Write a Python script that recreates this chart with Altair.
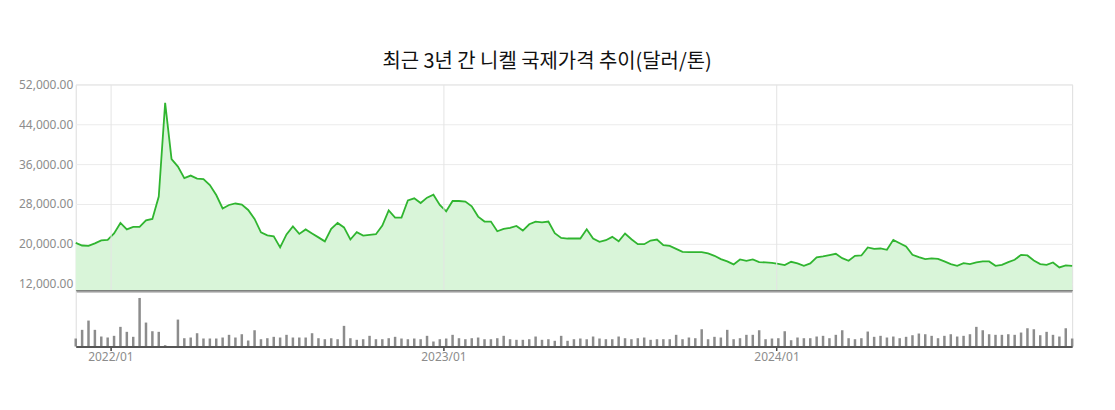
import altair as alt
import pandas as pd

TITLE = "최근 3년 간 니켈 국제가격 추이(달러/톤)"
START_DATE = "2021-11-24"   # weekly series

price = [
    20200, 19670, 19600, 20100, 20700, 20800, 22100, 24200, 22900, 23400,
    23400, 24700, 25000, 29500, 48300, 37000, 35500, 33200, 33700, 33100,
    33000, 31800, 29800, 27100, 27800, 28100, 27900, 26800, 25000, 22300,
    21700, 21500, 19300, 21900, 23500, 22000, 22900, 22100, 21300, 20500,
    23000, 24200, 23300, 20870, 22330, 21670, 21800, 21930, 23670, 26730,
    25270, 25270, 28730, 29130, 28200, 29270, 29870, 27800, 26530, 28600,
    28600, 28470, 27530, 25470, 24470, 24470, 22530, 23000, 23200, 23600,
    22670, 23930, 24470, 24330, 24470, 22130, 21200, 21070, 21070, 21070,
    22930, 21070, 20400, 20730, 21400, 20530, 22070, 20930, 19930, 19930,
    20670, 20870, 19730, 19600, 19000, 18400, 18330, 18330, 18330, 18070,
    17600, 16930, 16470, 15870, 16870, 16600, 16870, 16330, 16270, 16200,
    16000, 15730, 16400, 16070, 15600, 16070, 17270, 17470,
    17730, 18000, 17130, 16600, 17600, 17670, 19270, 19000, 19070, 18800,
    20800, 20130, 19470, 17800, 17330, 16930, 17070, 17000, 16470, 15930,
    15600, 16130, 15930, 16270, 16470, 16470, 15600, 15800, 16330, 16800,
    17800, 17670, 16670, 15930, 15800, 16270, 15270, 15670, 15600,
]

volume = [
    8, 16.7, 26, 16.7, 10, 9, 10.7, 19.7, 14.7, 9.7,
    48.7, 24, 15.3, 14.7, 1.3, 0, 27, 8.3, 9, 13.3,
    8, 8, 8, 9, 11.7, 9, 12.3, 6, 16.3, 7.3,
    8.3, 9.7, 9, 11.7, 9, 9, 9, 13.3, 8.3, 7.3,
    8.3, 7.3, 20.7, 8.3, 6.7, 7.3, 10.7, 7.3, 7.3, 8.3,
    9.7, 8, 7.3, 8, 7.3, 10.7, 5, 7.3, 8, 11.7,
    8.3, 7.3, 8.3, 9, 7.3, 7.3, 8.3, 10.7, 7.3, 6.7,
    6.7, 7.3, 10, 6.7, 7.3, 5.7, 10.7, 5.7, 7.3, 8,
    7.3, 10, 8, 7.3, 7.3, 10, 8.3, 7.3, 8.3, 9,
    6.7, 7.3, 7.3, 7.3, 11.7, 7.3, 9, 8.3, 17.3, 7.3,
    9.7, 9, 16.7, 7.3, 8.3, 11.7, 11.7, 16.3, 7.3, 8,
    8.3, 15.3, 6.3, 9, 8.3, 8.3, 10, 10.7, 8.3, 11.7,
    16.3, 8.3, 7.3, 8.3, 15, 9.7, 10.7, 9, 10, 8.3,
    9.7, 11.3, 13, 12.3, 10.7, 8.3, 10.7, 12.3, 10, 10.7,
    12.3, 19.7, 16.3, 12.3, 11.7, 11.7, 12.3, 11.7, 14, 18.3,
    17.3, 11.3, 14.7, 11.7, 10, 18.3, 8,
]

y_ticks = [12000, 20000, 28000, 36000, 44000, 52000]
y_min, y_max = 10600, 52000
x_tick_years = [2022, 2023, 2024]

dates = pd.date_range(START_DATE, periods=len(price), freq="7D")
df = pd.DataFrame({"date": dates, "price": price, "volume": volume})

tick_values = [alt.DateTime(year=y, month=1, date=1) for y in x_tick_years]
x_scale = alt.Scale(nice=False, padding=0)

top_x_axis = alt.Axis(
    title=None, values=tick_values, labels=False, ticks=False,
    domain=True, domainColor="#222222", domainWidth=2,
    grid=True, gridColor="#e4e4e4", gridWidth=1, zindex=1,
)
top_y_axis = alt.Axis(
    title=None, values=y_ticks, format=",.2f",
    labelColor="#8c8c8c", labelFontSize=12, labelFont="Noto Sans",
    labelPadding=3, domain=False, ticks=False,
    grid=True, gridColor="#ebebeb", gridWidth=1,
)

base = alt.Chart(df)
area = base.mark_area(color="#d9f5d9", opacity=1).encode(
    x=alt.X("date:T", scale=x_scale, axis=top_x_axis),
    y=alt.Y("price:Q", scale=alt.Scale(domain=[y_min, y_max], nice=False, zero=False),
            axis=top_y_axis),
    y2=alt.datum(y_min),
)
line = base.mark_line(color="#30b530", strokeWidth=1.8).encode(
    x=alt.X("date:T", scale=x_scale),
    y=alt.Y("price:Q"),
)
top = alt.layer(area, line).properties(width=1000, height=207)

bars = base.mark_bar(color="#8c8c8c", size=2.5).encode(
    x=alt.X("date:T", scale=x_scale, axis=alt.Axis(
        title=None, values=tick_values, format="%Y/%m",
        labelColor="#8c8c8c", labelFontSize=12, labelFont="Noto Sans",
        labelPadding=1, tickColor="#444444", tickSize=4, tickWidth=1.5,
        domainColor="#555555", domainWidth=2, grid=False, zindex=1,
    )),
    y=alt.Y("volume:Q", scale=alt.Scale(domain=[0, 56], nice=False), axis=None),
).properties(width=1000, height=56)

chart = alt.vconcat(top, bars, spacing=0, bounds="flush").properties(
    title=alt.TitleParams(
        TITLE, font="Noto Sans CJK KR", fontSize=20, fontWeight="normal",
        color="#111111", anchor="middle", frame="bounds", offset=6,
    ),
    padding={"left": 18, "top": 51, "right": 38, "bottom": 40},
).configure_view(stroke=None).configure(background="white")

chart.save("out.html", embed_options={"renderer": "svg", "actions": False})
